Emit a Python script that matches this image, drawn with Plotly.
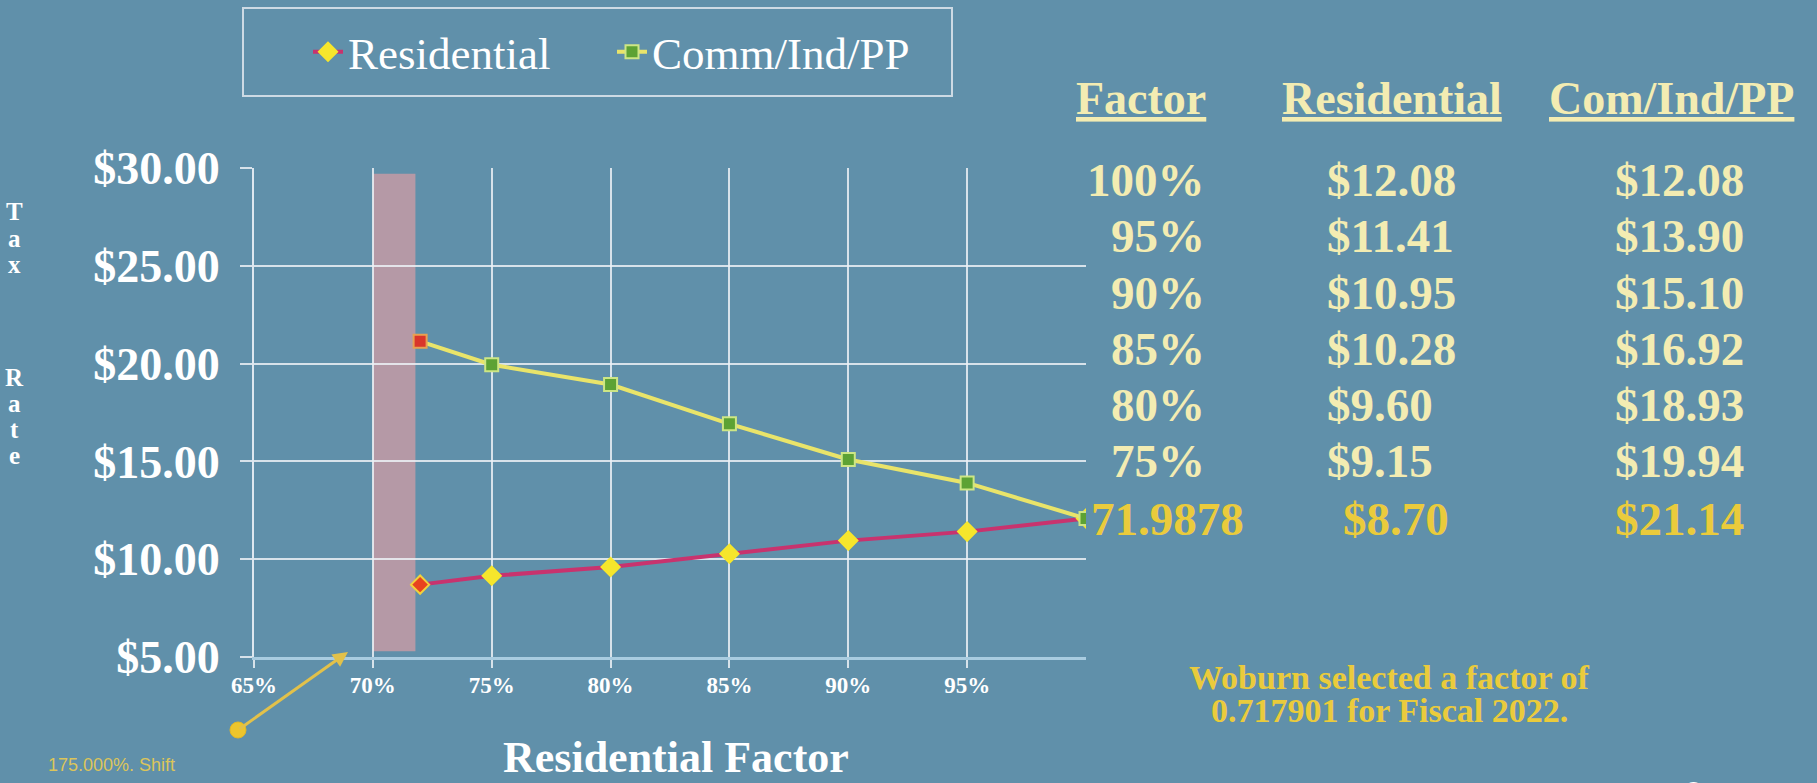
import plotly.graph_objects as go

# Fiscal 2022 tax rates by residential factor
factor_labels = ["100%", "95%", "90%", "85%", "80%", "75%", "71.9878"]
factors = [100, 95, 90, 85, 80, 75, 71.9878]
residential_rate = [12.08, 11.41, 10.95, 10.28, 9.60, 9.15, 8.70]
commercial_rate = [12.08, 13.90, 15.10, 16.92, 18.93, 19.94, 21.14]

y_ticks = [5, 10, 15, 20, 25, 30]
x_ticks = [65, 70, 75, 80, 85, 90, 95]
x_tick_labels = ["65%", "70%", "75%", "80%", "85%", "90%", "95%"]

selected_factor = 71.7901
band_start = 70
shift_label = "175.000%. Shift"
note_lines = ["Woburn selected a factor of", "0.717901 for Fiscal 2022."]
table_headers = ["Factor", "Residential", "Com/Ind/PP"]

# ---- page geometry (pixels) ----
W, H = 1817, 783
L, R, T, B = 254, 1086, 168, 657


def px(x):
    return (x - L) / (R - L)


def py(y):
    return (B - y) / (B - T)


SERIF = "Liberation Serif"
SANS = "Liberation Sans"
WHITE = "#FFFFFF"
CREAM = "#F3ECB2"
GOLD = "#EACB3C"
BG = "#6090AA"

sel_idx = factors.index(min(factors))
res_fill = ["#E8431E" if i == sel_idx else "#F6E62C" for i in range(len(factors))]
res_edge = ["#F2D23A" if i == sel_idx else "#F6E62C" for i in range(len(factors))]
com_fill = ["#D9352A" if i == sel_idx else "#5DA234" for i in range(len(factors))]
com_edge = ["#E8A050" if i == sel_idx else "#CDE685" for i in range(len(factors))]

fig = go.Figure()
fig.add_trace(go.Scatter(
    x=factors, y=residential_rate, name="Residential", mode="lines+markers",
    line=dict(color="#C8336E", width=4),
    marker=dict(symbol="diamond", size=14, color=res_fill,
                line=dict(color=res_edge, width=2)),
))
fig.add_trace(go.Scatter(
    x=factors, y=commercial_rate, name="Comm/Ind/PP", mode="lines+markers",
    line=dict(color="#E9E46A", width=4),
    marker=dict(symbol="square", size=13, color=com_fill,
                line=dict(color=com_edge, width=2)),
))

shapes = [
    # highlighted factor range
    dict(type="rect", xref="x", yref="y", x0=band_start, x1=selected_factor,
         y0=5.3, y1=29.7, fillcolor="rgba(200,155,165,0.82)", line_width=0,
         layer="below"),
    # legend frame
    dict(type="rect", xref="paper", yref="paper", x0=px(243), x1=px(952),
         y0=py(96), y1=py(8), line=dict(color="rgba(225,232,238,0.85)", width=2),
         fillcolor="rgba(0,0,0,0)"),
    # shift handle
    dict(type="circle", xref="paper", yref="paper", x0=px(230), x1=px(246),
         y0=py(738), y1=py(722), fillcolor="#EDC52C", line=dict(color="#E2B826", width=1)),
]

ann = []
# vertical axis title, one letter per line
for ch, yy in zip(["T", "a", "x", "R", "a", "t", "e"], [212, 238, 264, 377, 403, 429, 455]):
    ann.append(dict(text=ch, x=px(14), y=py(yy), xref="paper", yref="paper",
                    showarrow=False, xanchor="center", yanchor="middle",
                    font=dict(family=SERIF, size=25, color=WHITE, weight="bold")))

ann.append(dict(text="Residential Factor", x=px(676), y=py(757), xref="paper", yref="paper",
                showarrow=False, xanchor="center", yanchor="middle",
                font=dict(family=SERIF, size=44, color=WHITE, weight="bold")))

# rate table
header_x = [1141, 1392, 1671]
for hx, txt in zip(header_x, table_headers):
    ann.append(dict(text="<u>" + txt + "</u>", x=px(hx), y=py(98), xref="paper", yref="paper",
                    showarrow=False, xanchor="center", yanchor="middle",
                    font=dict(family=SERIF, size=46, color=CREAM, weight="bold")))

row_y = [180, 236, 293, 349, 405, 461, 519]
for i, (lab, rv, cv) in enumerate(zip(factor_labels, residential_rate, commercial_rate)):
    yy = py(row_y[i])
    col = GOLD if i == sel_idx else CREAM
    f = dict(family=SERIF, size=47, color=col, weight="bold")
    if i == sel_idx:
        ann.append(dict(text=lab, x=px(1089), y=yy, xref="paper", yref="paper",
                        showarrow=False, xanchor="left", yanchor="middle", font=f))
        rx = 1341
    else:
        ann.append(dict(text=lab, x=px(1207), y=yy, xref="paper", yref="paper",
                        showarrow=False, xanchor="right", yanchor="middle", font=f))
        rx = 1325
    ann.append(dict(text=f"${rv:.2f}", x=px(rx), y=yy, xref="paper", yref="paper",
                    showarrow=False, xanchor="left", yanchor="middle", font=f))
    ann.append(dict(text=f"${cv:.2f}", x=px(1613), y=yy, xref="paper", yref="paper",
                    showarrow=False, xanchor="left", yanchor="middle", font=f))

for line, yy in zip(note_lines, [677, 710]):
    ann.append(dict(text=line, x=px(1389), y=py(yy), xref="paper", yref="paper",
                    showarrow=False, xanchor="center", yanchor="middle",
                    font=dict(family=SERIF, size=34, color=GOLD, weight="bold")))

ann.append(dict(text=shift_label, x=px(46), y=py(765), xref="paper", yref="paper",
                showarrow=False, xanchor="left", yanchor="middle",
                font=dict(family=SANS, size=18, color="#DCC55A")))

# arrow from the shift handle toward the axis
ann.append(dict(text="", x=px(348), y=py(652), xref="paper", yref="paper",
                ax=238 - 348, ay=730 - 652, showarrow=True, arrowhead=2, arrowsize=1,
                arrowwidth=3, arrowcolor="#E2C14A", standoff=0))

# slide number (mostly below the page edge)
ann.append(dict(text="8", x=px(1693), y=py(772), xref="paper", yref="paper",
                showarrow=False, xanchor="center", yanchor="top",
                font=dict(family=SANS, size=34, color=WHITE)))

fig.update_layout(
    width=W, height=H,
    margin=dict(l=L, r=W - R, t=T, b=H - B, pad=0),
    paper_bgcolor=BG, plot_bgcolor=BG,
    shapes=shapes, annotations=ann,
    showlegend=True,
    legend=dict(orientation="h", x=px(308), y=py(52), xref="paper", yref="paper",
                xanchor="left", yanchor="middle", bgcolor="rgba(0,0,0,0)",
                entrywidth=259, entrywidthmode="pixels",
                font=dict(family=SERIF, size=45, color=WHITE), itemclick=False),
    xaxis=dict(range=[65, 100], tickvals=x_ticks, ticktext=x_tick_labels,
               showgrid=True, gridcolor="rgba(236,241,246,0.85)", gridwidth=2,
               zeroline=False, showline=True, linecolor="#A9CCE0", linewidth=3,
               ticks="outside", ticklen=8, tickcolor="rgba(236,241,246,0.85)", tickwidth=2,
               ticklabelstandoff=-3,
               tickfont=dict(family=SERIF, size=23, color=WHITE, weight="bold")),
    yaxis=dict(range=[5, 30], tickvals=y_ticks, ticktext=[f"${v:.2f}" for v in y_ticks],
               showgrid=True, gridcolor="rgba(236,241,246,0.85)", gridwidth=2,
               zeroline=False, showline=True, linecolor="rgba(236,241,246,0.9)", linewidth=2,
               ticks="outside", ticklen=12, tickcolor="rgba(236,241,246,0.85)", tickwidth=2,
               ticklabelstandoff=11,
               tickfont=dict(family=SERIF, size=46, color=WHITE, weight="bold")),
)

fig.write_html("out.html")
